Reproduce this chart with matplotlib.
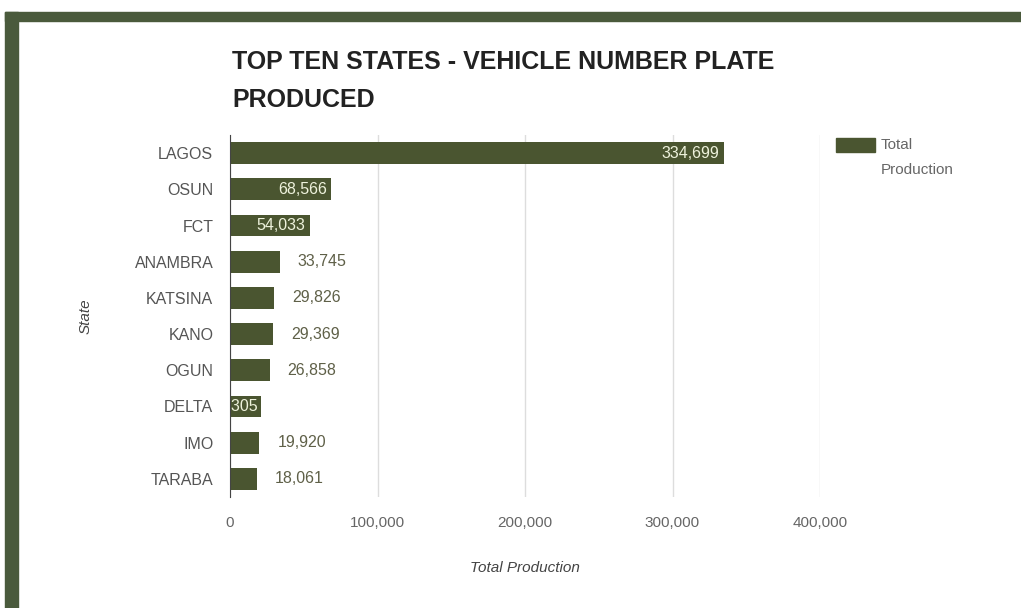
import matplotlib.pyplot as plt
from matplotlib.patches import Rectangle

states = ['LAGOS', 'OSUN', 'FCT', 'ANAMBRA', 'KATSINA', 'KANO', 'OGUN', 'DELTA', 'IMO', 'TARABA']
production = [334699, 68566, 54033, 33745, 29826, 29369, 26858, 21305, 19920, 18061]
inside_label = [True, True, True, False, False, False, False, True, False, False]
xticks = [0, 100000, 200000, 300000, 400000]

bar_color = '#4a5530'
border_color = '#4a5a3c'

plt.rcParams['font.family'] = ['Liberation Sans', 'DejaVu Sans']

fig = plt.figure(figsize=(10.21, 6.08), dpi=100)
fig.patch.set_facecolor('white')

# dark green frame (top band and left band)
fig.patches.append(Rectangle((5 / 1021, 1 - 21 / 608), 1, 9 / 608, transform=fig.transFigure,
                             color=border_color, zorder=0))
fig.patches.append(Rectangle((5 / 1021, 0), 13 / 1021, 1 - 12 / 608, transform=fig.transFigure,
                             color=border_color, zorder=0))

ax = fig.add_axes([230 / 1021, 1 - 497 / 608, 590 / 1021, 362 / 608])
y = list(range(len(states)))
ax.barh(y, production, height=0.6, color=bar_color, zorder=2)
ax.set_ylim(len(states) - 0.5, -0.5)
ax.set_xlim(0, 400000)

for i, (v, inside) in enumerate(zip(production, inside_label)):
    txt = f'{v:,}'
    if inside:
        ax.annotate(txt, (v, i), xytext=(-4, 0), textcoords='offset pixels', ha='right', va='center',
                    fontsize=11.5, color='#eef2dc', zorder=3, annotation_clip=False, clip_on=True)
    else:
        ax.annotate(txt, (v, i), xytext=(18, 0), textcoords='offset pixels', ha='left', va='center',
                    fontsize=11.5, color='#5f6048', zorder=3)

ax.set_yticks(y)
ax.set_yticklabels(states, fontsize=11.5, color='#555555')
ax.set_xticks(xticks)
ax.set_xticklabels([f'{t:,}' for t in xticks], fontsize=11, color='#666666')
ax.tick_params(length=0)
ax.tick_params(axis='y', pad=12)
ax.tick_params(axis='x', pad=14)
ax.grid(axis='x', color='#dddddd', linewidth=1, zorder=0)
for s in ['top', 'right', 'bottom']:
    ax.spines[s].set_visible(False)
ax.spines['left'].set_color('#444444')
ax.spines['left'].set_zorder(4)

ax.set_xlabel('Total Production', fontsize=11, style='italic', color='#444444', labelpad=22)
ax.set_ylabel('State', fontsize=11, style='italic', color='#444444', labelpad=30)

fig.text(232 / 1021, 1 - 50 / 608, 'TOP TEN STATES - VEHICLE NUMBER PLATE\nPRODUCED',
         fontsize=18, fontweight='bold', color='#222222', ha='left', va='top', linespacing=1.75)

# legend
fig.patches.append(Rectangle((836 / 1021, 1 - 152 / 608), 39 / 1021, 14 / 608,
                             transform=fig.transFigure, color=bar_color))
fig.text(881 / 1021, 1 - 145 / 608, 'Total', fontsize=11, color='#666666', ha='left', va='center')
fig.text(881 / 1021, 1 - 170 / 608, 'Production', fontsize=11, color='#666666', ha='left', va='center')

plt.savefig('out.png', dpi=100)
